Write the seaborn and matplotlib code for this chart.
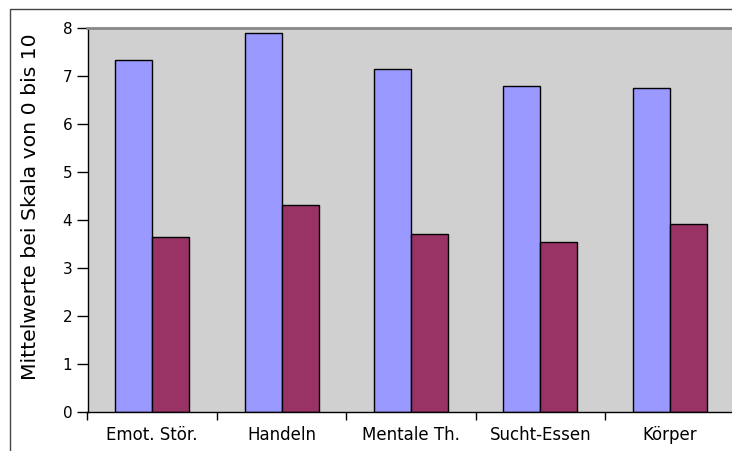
import matplotlib
matplotlib.use("Agg")
import matplotlib.pyplot as plt
import matplotlib.patches as mpatches
from matplotlib.ticker import FixedLocator, NullFormatter
import pandas as pd
import seaborn as sns

# Kategorien und Mittelwerte der beiden Reihen
categories = ["Emot. Stör.", "Handeln", "Mentale Th.", "Sucht-Essen", "Körper"]
series_names = ["Reihe 1", "Reihe 2"]
values_1 = [7.33, 7.89, 7.15, 6.80, 6.76]
values_2 = [3.65, 4.31, 3.71, 3.54, 3.91]
y_ticks = [0, 1, 2, 3, 4, 5, 6, 7, 8]
y_label = "Mittelwerte bei Skala von 0 bis 10"

colors = ["#9999ff", "#993366"]

df = pd.DataFrame({
    "Kategorie": categories * 2,
    "Reihe": [series_names[0]] * len(categories) + [series_names[1]] * len(categories),
    "Wert": values_1 + values_2,
})

sns.set_style("white")
plt.rcParams["font.family"] = ["DejaVu Sans"]
plt.rcParams["text.color"] = "black"
plt.rcParams["axes.labelcolor"] = "black"
plt.rcParams["xtick.color"] = "black"
plt.rcParams["ytick.color"] = "black"

W, H = 732, 451
fig = plt.figure(figsize=(W / 100, H / 100), dpi=100)
ax = fig.add_axes([87.5 / W, 1 - 412 / H, 647 / W, (412 - 28) / H])
ax.set_facecolor("#d0d0d0")

sns.barplot(
    data=df, x="Kategorie", y="Wert", hue="Reihe",
    order=categories, hue_order=series_names,
    palette=colors, width=0.572, gap=0,
    edgecolor="black", linewidth=1.0, saturation=1,
    legend=False, ax=ax,
)

ax.set_xlim(-0.5, len(categories) - 0.5)
ax.set_ylim(0, 8)
ax.set_yticks(y_ticks)
ax.tick_params(axis="y", which="major", direction="out", length=8, width=1,
               color="black", labelcolor="black", labelsize=11, pad=3, left=True)
ax.tick_params(axis="x", which="major", length=0, labelsize=12,
               labelcolor="black", pad=10)
ax.xaxis.set_minor_locator(FixedLocator([i - 0.5 for i in range(len(categories) + 1)]))
ax.xaxis.set_minor_formatter(NullFormatter())
ax.tick_params(axis="x", which="minor", direction="out", length=6, width=1,
               color="black", bottom=True)

ax.set_xlabel("")
ax.set_ylabel(y_label, fontsize=14.7, color="black")
ax.yaxis.label.set_verticalalignment("center")
ax.yaxis.set_label_coords((31 - 87.5) / 647, (412 - 206.5) / 384)

for side in ["left", "bottom"]:
    ax.spines[side].set_color("black")
    ax.spines[side].set_linewidth(1.0)
ax.spines["top"].set_color("#888888")
ax.spines["top"].set_linewidth(2.0)
ax.spines["right"].set_visible(False)

# äußerer Rahmen um das Diagramm
frame = mpatches.Rectangle((10 / W, -0.1), 2.0, (H - 9) / H + 0.1,
                           transform=fig.transFigure, fill=False,
                           edgecolor="#444444", linewidth=1.0)
fig.add_artist(frame)

fig.savefig("out.png", dpi=100)
